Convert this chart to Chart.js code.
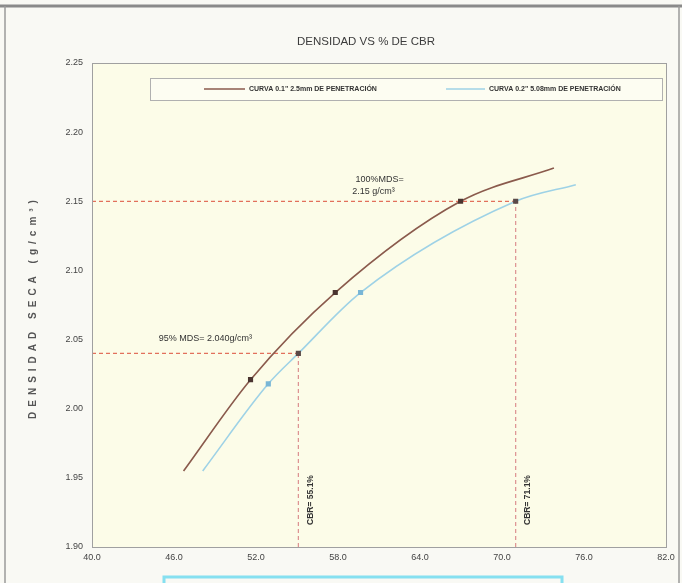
<!DOCTYPE html>
<html><head><meta charset="utf-8">
<script src="https://cdn.jsdelivr.net/npm/chart.js@4/dist/chart.umd.min.js"></script>
<style>html,body{margin:0;padding:0;background:#f9f9f4;}canvas{display:block}</style>
</head><body>
<canvas id="c" width="682" height="583"></canvas>
<script>
// ---- data ----
const chartTitle = 'DENSIDAD VS % DE CBR';
const yTitle = 'DENSIDAD SECA (g/cm³)';
const seriesNames = ['CURVA 0.1" 2.5mm DE PENETRACIÓN', 'CURVA 0.2" 5.08mm DE PENETRACIÓN'];
const cbr01  = [46.7, 51.6, 57.8, 66.97, 73.8];
const dens01 = [1.955, 2.021, 2.084, 2.150, 2.174];
const cbr02  = [48.1, 52.9, 55.1, 59.65, 71.0, 75.4];
const dens02 = [1.955, 2.018, 2.040, 2.084, 2.150, 2.162];
const mds100 = 2.15, mds95 = 2.04;
const cbrAt95 = 55.1, cbrAt100 = 71.0;
const labels100 = ['100%MDS=', '2.15 g/cm³'];
const label95 = '95% MDS= 2.040g/cm³';
const cbrLabels = ['CBR= 55.1%', 'CBR= 71.1%'];
const xMin = 40, xMax = 82, xStep = 6;
const yMin = 1.90, yMax = 2.25, yStep = 0.05;

const BROWN = '#8a5a4c', BLUE = '#9ed2e6', DASH_H = '#e2705c', DASH_V = '#dc9090';
const FONT = '"Liberation Sans", Arial, sans-serif';
const pts = (xs, ys) => xs.map((x, i) => ({x, y: ys[i]}));

const bgPlugin = {
  id: 'bg',
  beforeDraw(c) {
    const {ctx, chartArea: a} = c;
    ctx.save();
    ctx.fillStyle = '#f9f9f4';
    ctx.fillRect(0, 0, c.width, c.height);
    ctx.strokeStyle = '#8a8a8a'; ctx.lineWidth = 3;
    ctx.beginPath(); ctx.moveTo(0, 6); ctx.lineTo(682, 6); ctx.stroke();
    ctx.lineWidth = 1.5; ctx.strokeStyle = '#9a9a9a';
    ctx.beginPath(); ctx.moveTo(5, 6); ctx.lineTo(5, 583); ctx.stroke();
    ctx.beginPath(); ctx.moveTo(679, 6); ctx.lineTo(679, 583); ctx.stroke();
    ctx.fillStyle = '#fcfce8';
    ctx.fillRect(a.left, a.top, a.right - a.left, a.bottom - a.top);
    ctx.strokeStyle = '#86e0f0'; ctx.lineWidth = 3;
    ctx.strokeRect(164, 577, 398, 14);
    ctx.fillStyle = '#3c3c3c'; ctx.font = '11.5px ' + FONT;
    ctx.textAlign = 'center'; ctx.textBaseline = 'middle';
    ctx.fillText(chartTitle, 366, 42);
    ctx.translate(33, 307); ctx.rotate(-Math.PI / 2);
    ctx.font = 'bold 10px ' + FONT;
    ctx.fillStyle = '#555';
    ctx.letterSpacing = '5px';
    ctx.fillText(yTitle, 0, 0);
    ctx.restore();
  },
  afterDraw(c) {
    const {ctx, chartArea: a} = c;
    ctx.save();
    ctx.strokeStyle = '#a0a0a0'; ctx.lineWidth = 1;
    ctx.strokeRect(a.left + 0.5, a.top + 0.5, a.right - a.left, a.bottom - a.top);
    ctx.restore();
  },
  afterDatasetsDraw(c) {
    const {ctx} = c;
    const xs = c.scales.x, ys = c.scales.y;
    ctx.save();
    ctx.fillStyle = '#fdfdf2';
    ctx.fillRect(150, 78, 512, 22);
    ctx.strokeStyle = '#b0b0b0'; ctx.lineWidth = 1;
    ctx.strokeRect(150.5, 78.5, 512, 22);
    ctx.font = 'bold 7px ' + FONT;
    ctx.textBaseline = 'middle'; ctx.textAlign = 'left';
    ctx.lineWidth = 1.5;
    ctx.strokeStyle = BROWN; ctx.beginPath(); ctx.moveTo(204, 89); ctx.lineTo(245, 89); ctx.stroke();
    ctx.fillStyle = '#333'; ctx.fillText(seriesNames[0], 249, 89.5);
    ctx.strokeStyle = BLUE; ctx.beginPath(); ctx.moveTo(446, 89); ctx.lineTo(485, 89); ctx.stroke();
    ctx.fillText(seriesNames[1], 489, 89.5);
    ctx.font = '9px ' + FONT;
    ctx.fillStyle = '#333'; ctx.textAlign = 'center';
    const ax = xs.getPixelForValue(60.6);
    ctx.fillText(labels100[0], ax + 6, ys.getPixelForValue(mds100) - 22);
    ctx.fillText(labels100[1], ax, ys.getPixelForValue(mds100) - 10);
    ctx.fillText(label95, xs.getPixelForValue(48.3), ys.getPixelForValue(mds95) - 15);
    ctx.font = 'bold 8.5px ' + FONT;
    [[cbrAt95, cbrLabels[0]], [cbrAt100, cbrLabels[1]]].forEach(([v, t]) => {
      ctx.save();
      ctx.translate(xs.getPixelForValue(v) + 12, 500);
      ctx.rotate(-Math.PI / 2);
      ctx.fillText(t, 0, 0);
      ctx.restore();
    });
    ctx.restore();
  }
};

new Chart(document.getElementById('c'), {
  type: 'line',
  data: {
    datasets: [
      {label: 'h100', data: [{x: xMin, y: mds100}, {x: cbrAt100, y: mds100}], borderColor: DASH_H, borderWidth: 1.2, borderDash: [4, 3], pointRadius: 0, order: 5},
      {label: 'h95', data: [{x: xMin, y: mds95}, {x: cbrAt95, y: mds95}], borderColor: DASH_H, borderWidth: 1.2, borderDash: [4, 3], pointRadius: 0, order: 5},
      {label: 'v95', data: [{x: cbrAt95, y: yMin}, {x: cbrAt95, y: mds95}], borderColor: DASH_V, borderWidth: 1.2, borderDash: [4, 3], pointRadius: 0, order: 5},
      {label: 'v100', data: [{x: cbrAt100, y: yMin}, {x: cbrAt100, y: mds100}], borderColor: DASH_V, borderWidth: 1.2, borderDash: [4, 3], pointRadius: 0, order: 5},
      {label: seriesNames[0], data: pts(cbr01, dens01), borderColor: BROWN, borderWidth: 1.6,
        cubicInterpolationMode: 'monotone', pointStyle: 'rect',
        pointRadius: [0, 2.5, 2.5, 2.5, 0], pointBackgroundColor: '#4a3430', pointBorderColor: '#4a3430', order: 1},
      {label: seriesNames[1], data: pts(cbr02, dens02), borderColor: BLUE, borderWidth: 1.6,
        cubicInterpolationMode: 'monotone', pointStyle: 'rect',
        pointRadius: [0, 2.5, 2.5, 2.5, 2.5, 0],
        pointBackgroundColor: ['#000', '#79b6d6', '#5a4a48', '#79b6d6', '#5a4a48', '#000'],
        pointBorderColor: ['#000', '#79b6d6', '#5a4a48', '#79b6d6', '#5a4a48', '#000'], order: 2}
    ]
  },
  options: {
    responsive: false, animation: false,
    layout: {padding: {left: 0, right: 16, top: 63, bottom: 0}},
    plugins: {legend: {display: false}, title: {display: false}, tooltip: {enabled: false}},
    scales: {
      x: {type: 'linear', min: xMin, max: xMax,
        ticks: {stepSize: xStep, callback: v => v.toFixed(1), color: '#444', font: {size: 9, family: FONT}, maxRotation: 0, padding: 5},
        grid: {display: false, drawTicks: false}, border: {color: '#a0a0a0'},
        afterFit: s => { s.height = 36; }},
      y: {type: 'linear', min: yMin, max: yMax,
        ticks: {stepSize: yStep, callback: v => v.toFixed(2), color: '#444', font: {size: 9, family: FONT}, padding: 9},
        grid: {display: false, drawTicks: false}, border: {color: '#a0a0a0'},
        afterFit: s => { s.width = 92; }}
    }
  },
  plugins: [bgPlugin]
});
</script>
</body></html>
